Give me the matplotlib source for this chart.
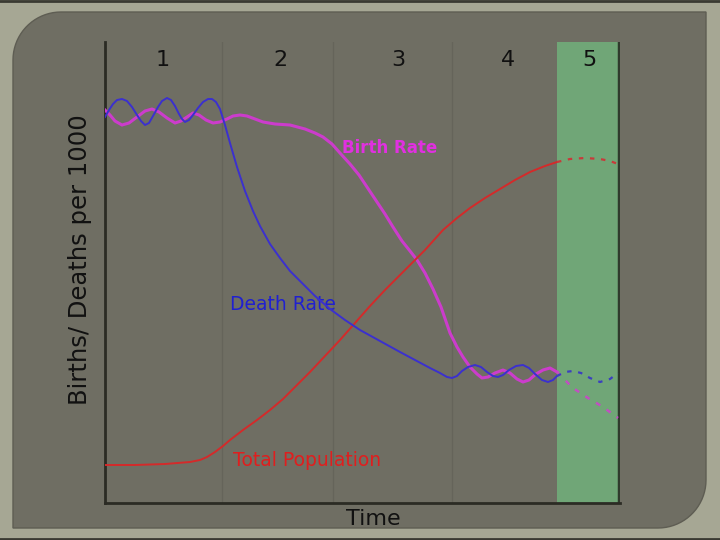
import numpy as np
import matplotlib.pyplot as plt
from matplotlib.patches import Polygon
from matplotlib.lines import Line2D

# data (x = time units, y = births/deaths scale)
death_x = [0, 4, 8, 12, 17, 22, 27, 32, 36, 40, 44, 48, 53, 57, 62, 66, 70, 74, 77, 80,
           84, 88, 93, 98, 103, 107, 111, 115, 120, 125, 132, 140, 148, 155, 165, 175,
           185, 195, 210, 225, 240, 255, 275, 295, 310, 325, 335, 342, 347, 352, 357,
           363, 370, 376, 382, 388, 393, 398, 404, 411, 418, 424, 430, 437, 443, 448, 452]
death_y = [386, 393, 399, 403, 404, 402, 396, 388, 382, 378, 380, 387, 396, 402, 405,
           403, 397, 389, 384, 381, 383, 388, 395, 401, 404, 404, 401, 394, 378, 360,
           336, 312, 292, 277, 259, 245, 232, 222, 207, 194, 183, 173, 162, 151, 143,
           135, 130, 126, 125, 127, 132, 136, 138, 136, 131, 127, 126, 128, 133, 137,
           138, 135, 129, 123, 121, 123, 127]
death_x5 = [452, 460, 468, 476, 485, 495, 505, 513]
death_y5 = [127, 131, 132, 130, 125, 121, 124, 130]

birth_x = [0, 5, 10, 17, 24, 32, 40, 47, 54, 62, 70, 76, 82, 88, 94, 101, 108, 115, 122,
           128, 135, 142, 150, 158, 170, 185, 200, 210, 218, 227, 235, 245, 254, 262,
           270, 280, 288, 297, 305, 312, 320, 328, 336, 345, 352, 358, 365, 372, 377,
           383, 390, 398, 405, 412, 418, 424, 431, 438, 445, 452]
birth_y = [393, 388, 382, 378, 380, 386, 392, 394, 391, 385, 380, 382, 386, 390, 388,
           383, 380, 381, 384, 387, 388, 387, 384, 381, 379, 378, 374, 370, 366, 359,
           350, 339, 328, 316, 304, 289, 276, 262, 252, 243, 230, 214, 196, 170, 156,
           146, 136, 129, 125, 126, 130, 133, 130, 124, 121, 123, 129, 133, 135, 131]
birth_x5 = [452, 468, 483, 498, 513]
birth_y5 = [131, 115, 105, 96, 85]

pop_x = [0, 30, 60, 85, 95, 102, 110, 118, 125, 138, 152, 165, 178, 190, 205, 220, 235,
         250, 265, 280, 295, 308, 320, 338, 352, 365, 380, 395, 410, 425, 440, 452]
pop_y = [38, 38, 39, 41, 43, 46, 51, 57, 63, 73, 83, 93, 104, 116, 131, 147, 163, 180,
         197, 213, 228, 241, 253, 273, 285, 295, 305, 314, 323, 331, 337, 341]
pop_x5 = [452, 465, 480, 495, 505, 513]
pop_y5 = [341, 344, 345, 344, 342, 339]

stage_labels = ['1', '2', '3', '4', '5']
stage_centers = [58, 175, 293, 403, 484]
stage_edges = [117, 228, 347]

outer_bg = '#a6a794'
panel_bg = '#6f6e63'
green = '#70a677'
dark = '#2b2b24'

fig = plt.figure(figsize=(7.2, 5.4), dpi=100)
fig.patch.set_facecolor(outer_bg)

# slide panel: rounded top-left and bottom-right corners
W, H = 720, 540
x0, x1, y0, y1, r = 13, 706, 12, 528, 48
pts = []
a = np.linspace(np.pi, np.pi / 2, 20)
pts += list(zip(x0 + r + r * np.cos(a), y0 + r - r * np.sin(a)))
pts += [(x1, y0)]
a = np.linspace(0, -np.pi / 2, 20)
pts += list(zip(x1 - r + r * np.cos(a), y1 - r - r * np.sin(a)))
pts += [(x0, y1)]
pts = [(px / W, 1 - py / H) for px, py in pts]
fig.patches.append(Polygon(pts, closed=True, transform=fig.transFigure,
                           facecolor=panel_bg, edgecolor='#5e5d53', lw=1.0, zorder=-10))
fig.lines.append(Line2D([0, 1], [0.998, 0.998], transform=fig.transFigure, color='#3a3a32',
                        lw=2, zorder=-9))
fig.lines.append(Line2D([0, 1], [0.002, 0.002], transform=fig.transFigure, color='#3a3a32',
                        lw=2, zorder=-9))

ax = fig.add_axes([105 / W, 37 / H, 515 / W, 461 / H])
ax.set_facecolor('none')
ax.set_xlim(0, 515)
ax.set_ylim(0, 461)

ax.axvspan(452, 513, color=green, zorder=1, lw=0)
ax.axvline(514, color='#2f3a2c', lw=2.5, zorder=2)
for e in stage_edges:
    ax.axvline(e, color='#65645a', lw=1.0, zorder=1)

ax.plot(death_x, death_y, color='#3b30cf', lw=1.4, zorder=4)
ax.plot(death_x5, death_y5, color='#3a3fc0', lw=1.6, ls=(0, (2, 3)), zorder=4)
ax.plot(birth_x, birth_y, color='#cc3ccc', lw=2.2, zorder=3)
ax.plot(birth_x5, birth_y5, color='#c050c0', lw=1.8, ls=(0, (2, 3)), zorder=3)
ax.plot(pop_x, pop_y, color='#d42a2a', lw=1.4, zorder=3)
ax.plot(pop_x5, pop_y5, color='#c83a3a', lw=1.6, ls=(0, (2, 3)), zorder=3)

for lab, cx in zip(stage_labels, stage_centers):
    ax.text(cx, 443, lab, ha='center', va='center', fontsize=16, color='#111111', zorder=5)

ax.text(237, 355, 'Birth Rate', color='#e030e0', fontsize=12, fontweight='bold',
        ha='left', va='center')
ax.text(125, 198, 'Death Rate', color='#2020d0', fontsize=13.5, ha='left', va='center')
ax.text(128, 42, 'Total Population', color='#e01e1e', fontsize=13.5, ha='left', va='center')

ax.set_xticks([])
ax.set_yticks([])
for s in ['top', 'right']:
    ax.spines[s].set_visible(False)
for s in ['left', 'bottom']:
    ax.spines[s].set_color(dark)
    ax.spines[s].set_linewidth(2)
ax.set_ylabel('Births/ Deaths per 1000', fontsize=17.5, color='#111111')
ax.yaxis.set_label_coords(-0.0485, 0.527, transform=ax.transAxes)
ax.yaxis.label.set_va('center')
ax.set_xlabel('Time', fontsize=16, color='#111111')
ax.xaxis.set_label_coords(268 / 515, -0.012, transform=ax.transAxes)
ax.xaxis.label.set_va('top')

fig.savefig('out.png', dpi=100, facecolor=fig.get_facecolor())
